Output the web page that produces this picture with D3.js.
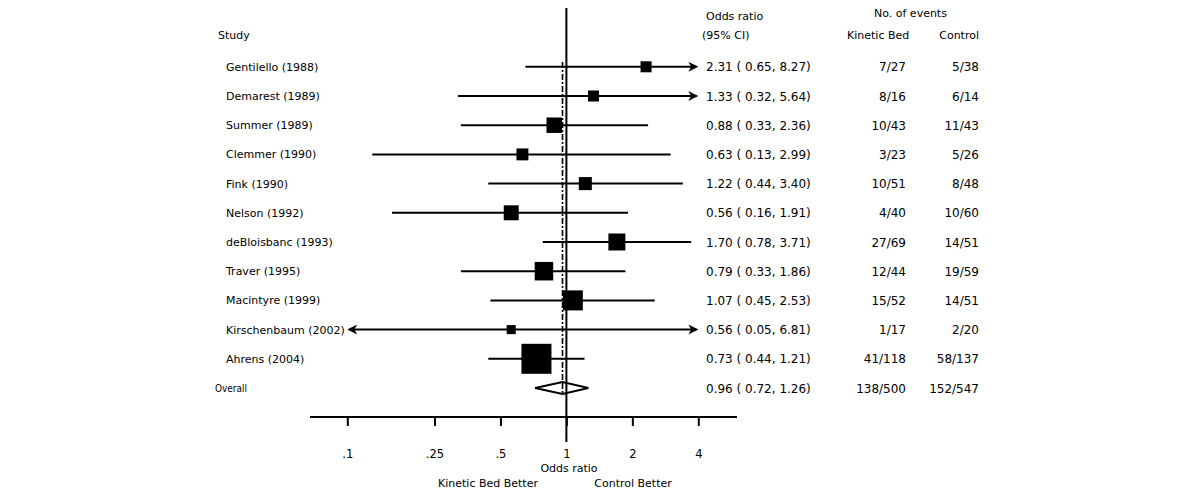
<!DOCTYPE html>
<html>
<head>
<meta charset="utf-8">
<script src="https://cdn.jsdelivr.net/npm/d3@7"></script>
<style>
  body { margin: 0; background: #fff; }
  svg text { font-family: "DejaVu Sans", sans-serif; font-size: 11px; fill: #000; }
  svg text.num { font-size: 12px; }
</style>
</head>
<body>
<div id="forestChart"></div>
<script>
// Study data
var studies = ["Gentilello (1988)", "Demarest (1989)", "Summer (1989)", "Clemmer (1990)", "Fink (1990)",
    "Nelson (1992)", "deBloisbanc (1993)", "Traver (1995)", "Macintyre (1999)", "Kirschenbaum (2002)", "Ahrens (2004)"];
var oddsRatio = [2.31, 1.33, 0.88, 0.63, 1.22, 0.56, 1.70, 0.79, 1.07, 0.56, 0.73];
var ciLower   = [0.65, 0.32, 0.33, 0.13, 0.44, 0.16, 0.78, 0.33, 0.45, 0.05, 0.44];
var ciUpper   = [8.27, 5.64, 2.36, 2.99, 3.40, 1.91, 3.71, 1.86, 2.53, 6.81, 1.21];
var weights   = [4.0, 4.0, 7.9, 4.7, 5.6, 7.4, 9.5, 11.3, 13.2, 2.7, 29.7];
var eventsBed     = ["7/27", "8/16", "10/43", "3/23", "10/51", "4/40", "27/69", "12/44", "15/52", "1/17", "41/118"];
var eventsControl = ["5/38", "6/14", "11/43", "5/26", "8/48", "10/60", "14/51", "19/59", "14/51", "2/20", "58/137"];

var overall = { label: "Overall", or: 0.96, lo: 0.72, hi: 1.26, bed: "138/500", control: "152/547" };

var tickValues = [0.1, 0.25, 0.5, 1, 2, 4];
var tickLabels = [".1", ".25", ".5", "1", "2", "4"];

// Chart parameters
var properties = { width: 1200, height: 498 };

var svg = d3.select("#forestChart")
    .append("svg")
    .attr("width", properties.width)
    .attr("height", properties.height);

// Log scale for odds ratio, clipped to the axis range
var xScale = d3.scaleLog().domain([0.1, 4]).range([347.3, 698.3]);
var clip = function (v) { return Math.max(0.1, Math.min(4, v)); };

// Row positions
var yScale = d3.scaleLinear().domain([0, 11]).range([66.8, 388]);

// Weight -> square side
var sizeScale = d3.scaleSqrt().domain([0, d3.max(weights)]).range([0, 30]);

var rows = studies.map(function (name, i) {
    return { name: name, or: oddsRatio[i], lo: ciLower[i], hi: ciUpper[i], w: weights[i],
             bed: eventsBed[i], control: eventsControl[i], i: i };
});

function fmt(v) { return v.toFixed(2); }

// Headers
svg.append("text").attr("x", 218).attr("y", 39).text("Study");
svg.append("text").attr("x", 706).attr("y", 20).text("Odds ratio");
svg.append("text").attr("x", 702).attr("y", 39).text("(95% CI)");
svg.append("text").attr("x", 874).attr("y", 17).text("No. of events");
svg.append("text").attr("x", 847).attr("y", 39).text("Kinetic Bed");
svg.append("text").attr("x", 979).attr("y", 39).attr("text-anchor", "end").text("Control");

// Reference line at 1
svg.append("line")
    .attr("x1", xScale(1)).attr("x2", xScale(1))
    .attr("y1", 8).attr("y2", 442)
    .attr("stroke", "#000").attr("stroke-width", 2);

// Overall estimate dash-dot line
svg.append("line")
    .attr("x1", xScale(overall.or)).attr("x2", xScale(overall.or))
    .attr("y1", 62).attr("y2", yScale(11))
    .attr("stroke", "#000").attr("stroke-width", 1.6)
    .attr("stroke-dasharray", "6,2,2,2");

// Arrow head helper
function arrow(g, x, y, dir) {
    g.append("path")
        .attr("d", "M" + x + "," + y + "L" + (x - dir * 10) + "," + (y - 5) +
                   "L" + (x - dir * 7) + "," + y + "L" + (x - dir * 10) + "," + (y + 5) + "Z")
        .attr("fill", "#000");
}

var rowG = svg.selectAll(".study-row")
    .data(rows)
    .enter()
    .append("g")
    .attr("class", "study-row");

rowG.append("text")
    .attr("x", 226)
    .attr("y", function (d) { return yScale(d.i) + 4; })
    .text(function (d) { return d.name; });

rowG.append("line")
    .attr("x1", function (d) { return xScale(clip(d.lo)) + (d.lo < 0.1 ? 2 : 0); })
    .attr("x2", function (d) { return xScale(clip(d.hi)) - (d.hi > 4 ? 2 : 0); })
    .attr("y1", function (d) { return yScale(d.i); })
    .attr("y2", function (d) { return yScale(d.i); })
    .attr("stroke", "#000").attr("stroke-width", 2);

rowG.each(function (d) {
    var g = d3.select(this);
    if (d.hi > 4) arrow(g, xScale(4), yScale(d.i), 1);
    if (d.lo < 0.1) arrow(g, xScale(0.1), yScale(d.i), -1);
});

rowG.append("rect")
    .attr("x", function (d) { return xScale(d.or) - sizeScale(d.w) / 2; })
    .attr("y", function (d) { return yScale(d.i) - sizeScale(d.w) / 2; })
    .attr("width", function (d) { return sizeScale(d.w); })
    .attr("height", function (d) { return sizeScale(d.w); })
    .attr("fill", "#000");

rowG.append("text")
    .attr("class", "num")
    .attr("x", 706)
    .attr("y", function (d) { return yScale(d.i) + 4.5; })
    .text(function (d) { return fmt(d.or) + " ( " + fmt(d.lo) + ", " + fmt(d.hi) + ")"; });

rowG.append("text")
    .attr("class", "num")
    .attr("x", 906).attr("text-anchor", "end")
    .attr("y", function (d) { return yScale(d.i) + 4.5; })
    .text(function (d) { return d.bed; });

rowG.append("text")
    .attr("class", "num")
    .attr("x", 979).attr("text-anchor", "end")
    .attr("y", function (d) { return yScale(d.i) + 4.5; })
    .text(function (d) { return d.control; });

// Overall row
var yo = yScale(11);
svg.append("text")
    .attr("x", 215).attr("y", yo + 4)
    .attr("textLength", 32).attr("lengthAdjust", "spacingAndGlyphs")
    .style("font-size", "11px")
    .text(overall.label);

svg.append("path")
    .attr("d", "M" + xScale(overall.lo) + "," + yo +
               "L" + xScale(overall.or) + "," + (yo - 6) +
               "L" + xScale(overall.hi) + "," + yo +
               "L" + xScale(overall.or) + "," + (yo + 6) + "Z")
    .attr("fill", "#fff").attr("stroke", "#000").attr("stroke-width", 2);

// redraw reference segment over the diamond fill
svg.append("line")
    .attr("x1", xScale(1)).attr("x2", xScale(1))
    .attr("y1", yo - 6).attr("y2", yo + 6)
    .attr("stroke", "#000").attr("stroke-width", 2);
svg.append("line")
    .attr("x1", xScale(overall.or)).attr("x2", xScale(overall.or))
    .attr("y1", yo - 5).attr("y2", yo + 5)
    .attr("stroke", "#000").attr("stroke-width", 1.6)
    .attr("stroke-dasharray", "6,2,2,2");

svg.append("text").attr("class", "num").attr("x", 706).attr("y", yo + 4.5)
    .text(fmt(overall.or) + " ( " + fmt(overall.lo) + ", " + fmt(overall.hi) + ")");
svg.append("text").attr("class", "num").attr("x", 906).attr("y", yo + 4.5).attr("text-anchor", "end").text(overall.bed);
svg.append("text").attr("class", "num").attr("x", 979).attr("y", yo + 4.5).attr("text-anchor", "end").text(overall.control);

// Axis
var axisY = 417;
var axis = d3.axisBottom(xScale)
    .tickValues(tickValues)
    .tickSize(9)
    .tickPadding(24)
    .tickFormat(function (d, i) { return tickLabels[i]; });

var axisG = svg.append("g")
    .attr("transform", "translate(0," + axisY + ")")
    .call(axis);
axisG.select(".domain").remove();
axisG.selectAll(".tick line").attr("stroke", "#000").attr("stroke-width", 2);
axisG.selectAll(".tick text").style("font-family", "DejaVu Sans").style("font-size", "11.5px").attr("fill", "#000");

svg.append("line")
    .attr("x1", 310).attr("x2", 737)
    .attr("y1", axisY).attr("y2", axisY)
    .attr("stroke", "#000").attr("stroke-width", 2);

svg.append("text").attr("x", 569).attr("y", 472).attr("text-anchor", "middle").text("Odds ratio");
svg.append("text").attr("x", 488).attr("y", 487).attr("text-anchor", "middle").text("Kinetic Bed Better");
svg.append("text").attr("x", 633).attr("y", 487).attr("text-anchor", "middle").text("Control Better");
</script>
</body>
</html>
